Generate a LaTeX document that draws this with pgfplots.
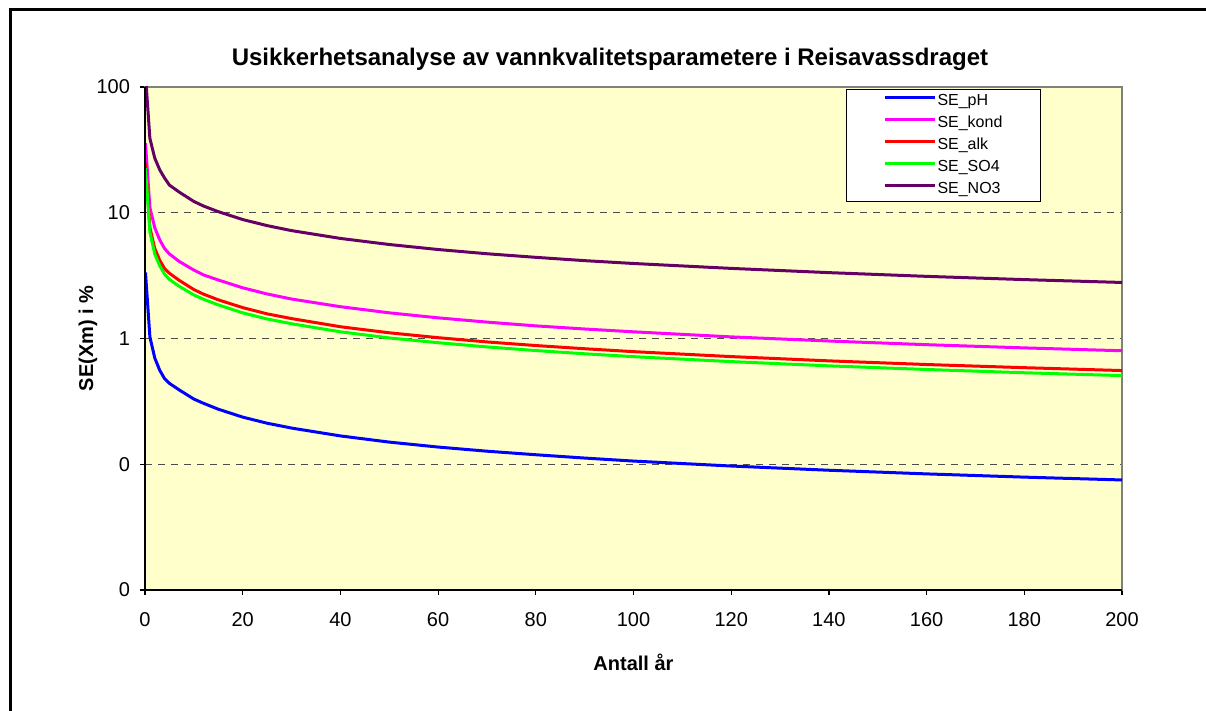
\documentclass[border=0pt]{standalone}
\usepackage{pgfplots}
\pgfplotsset{compat=1.18}
\usepackage{fontspec}
\setmainfont{Liberation Sans}

\definecolor{plotbg}{RGB}{255,255,204}
\definecolor{cpH}{RGB}{0,0,255}
\definecolor{ckond}{RGB}{255,0,255}
\definecolor{calk}{RGB}{255,0,0}
\definecolor{cso}{RGB}{0,255,0}
\definecolor{cno}{RGB}{102,0,102}

\begin{document}
\begin{tikzpicture}
\useasboundingbox (0,0) rectangle (603pt,355.5pt);
\draw[line width=1.5pt] (5pt,0) -- (5pt,350.75pt) -- (603pt,350.75pt);

\begin{axis}[
    name=ax,
    at={(72.5pt,60.5pt)}, anchor=south west,
    width=488.5pt, height=251.5pt, scale only axis,
    ymode=log,
    xmin=0, xmax=200,
    ymin=0.01, ymax=100,
    xtick={0,20,...,200},
    ytick={0.01,0.1,1,10,100},
    yticklabels={0,0,1,10,100},
    yminorticks=false,
    tick pos=left,
    tick align=outside,
    major tick length=2.5pt,
    tick style={black, line width=0.6pt},
    ymajorgrids=true,
    major grid style={black!70, dash pattern=on 3.5pt off 3pt, line width=0.5pt},
    axis line style={gray, line width=1.2pt},
    axis background/.style={fill=plotbg},
    /pgf/number format/assume math mode=true,
    tick label style={font=\fontsize{10}{12}\selectfont},
    xticklabel style={yshift=-5pt},
    yticklabel style={xshift=-1.5pt},
    title={\bfseries Usikkerhetsanalyse av vannkvalitetsparametere i Reisavassdraget},
    title style={font=\fontsize{12}{14}\selectfont, at={(axis description cs:0.476,1.0318)}, anchor=center},
    xlabel={\bfseries Antall år},
    ylabel={\bfseries SE(Xm) i \%},
    label style={font=\fontsize{10}{12}\selectfont},
    xlabel style={at={(axis description cs:0.5,-0.143)}, anchor=center},
    ylabel style={at={(axis description cs:-0.0583,0.5)}, anchor=center},
    legend style={at={(axis description cs:0.7175,0.996)}, anchor=north west,
        draw=black, line width=0.5pt, fill=white,
        font=\fontsize{8}{9}\selectfont,
        inner xsep=18.5pt, inner ysep=1.5pt, row sep=1.95pt,
        nodes={inner sep=0.5pt, text height=6pt, text depth=2pt, anchor=west}},
    legend cell align=left,
    legend image code/.code={\draw[#1] (0pt,2pt) -- (25pt,2pt);},
    every axis plot/.append style={line width=1.5pt},
]

\addplot[cpH] coordinates {
(0.1,3.35)(1,1.03)(2,0.70)(3,0.56)(4,0.48)(5,0.44)(7,0.39)(10,0.33)(12,0.305)
(15,0.274)(20,0.237)(25,0.212)(30,0.194)(40,0.168)(50,0.150)(60,0.137)
(70,0.127)(80,0.119)(90,0.112)(100,0.106)(120,0.0968)(140,0.0896)
(160,0.0838)(180,0.0790)(200,0.0750)};
\addlegendentry{SE\_pH}

\addplot[ckond] coordinates {
(0.1,35.7)(1,11.0)(2,7.6)(3,6.1)(4,5.2)(5,4.7)(7,4.1)(10,3.5)(12,3.2)
(15,2.92)(20,2.53)(25,2.26)(30,2.06)(40,1.79)(50,1.60)(60,1.46)
(70,1.35)(80,1.26)(90,1.19)(100,1.13)(120,1.03)(140,0.955)
(160,0.893)(180,0.842)(200,0.799)};
\addlegendentry{SE\_kond}

\addplot[calk] coordinates {
(0.1,24.9)(1,7.6)(2,5.2)(3,4.2)(4,3.6)(5,3.3)(7,2.9)(10,2.45)(12,2.25)
(15,2.03)(20,1.76)(25,1.57)(30,1.44)(40,1.24)(50,1.11)(60,1.015)
(70,0.939)(80,0.879)(90,0.829)(100,0.786)(120,0.718)(140,0.664)
(160,0.621)(180,0.586)(200,0.556)};
\addlegendentry{SE\_alk}

\addplot[cso] coordinates {
(0.1,22.7)(1,7.0)(2,4.7)(3,3.8)(4,3.25)(5,2.95)(7,2.6)(10,2.22)(12,2.05)
(15,1.85)(20,1.60)(25,1.43)(30,1.31)(40,1.13)(50,1.01)(60,0.926)
(70,0.857)(80,0.802)(90,0.756)(100,0.717)(120,0.655)(140,0.606)
(160,0.567)(180,0.534)(200,0.507)};
\addlegendentry{SE\_SO4}

\addplot[cno] coordinates {
(0.1,124.9)(1,39.0)(2,27.2)(3,22.0)(4,18.9)(5,16.6)(7,14.6)(10,12.3)(12,11.3)
(15,10.2)(20,8.83)(25,7.90)(30,7.21)(40,6.25)(50,5.59)(60,5.10)
(70,4.72)(80,4.42)(90,4.16)(100,3.95)(120,3.61)(140,3.34)
(160,3.12)(180,2.94)(200,2.79)};
\addlegendentry{SE\_NO3}

\end{axis}
\draw[black, line width=0.9pt] (ax.north west) -- (ax.south west) -- (ax.south east);
\end{tikzpicture}
\end{document}
